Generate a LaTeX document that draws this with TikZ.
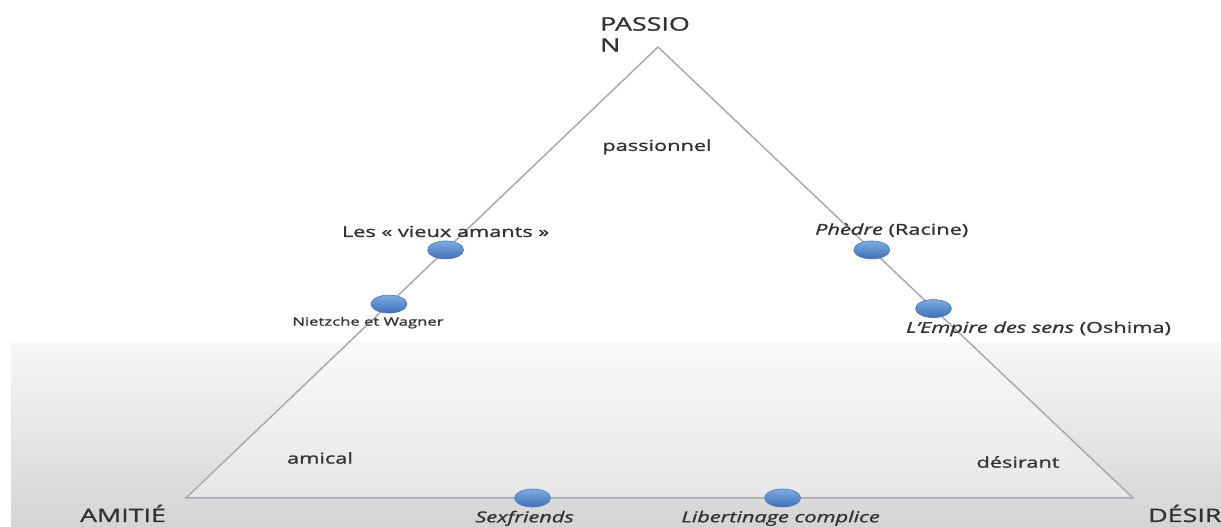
\documentclass[tikz,border=0pt]{standalone}
\usepackage{fontspec}
\setmainfont{Open Sans}[FakeStretch=1.45,FakeBold=1.2]
\usetikzlibrary{shapes.geometric,calc}

\definecolor{edgegray}{RGB}{165,170,180}
\definecolor{textgray}{RGB}{50,50,50}
\definecolor{dotlight}{RGB}{125,172,226}
\definecolor{dotdark}{RGB}{62,112,182}
\definecolor{dotline}{RGB}{75,120,185}
\definecolor{floortop}{RGB}{247,247,247}
\definecolor{floorgray}{RGB}{212,212,212}

\tikzset{
  edge/.style={draw=edgegray,line width=1.5pt,fill=white,fill opacity=0.35},
  dot/.style={ellipse,minimum width=36pt,minimum height=18pt,inner sep=0pt,
    top color=dotlight,bottom color=dotdark,draw=dotline,line width=0.6pt},
  lbl/.style={font=\fontsize{15}{18}\selectfont,text=textgray},
  corner/.style={font=\fontsize{18.5}{21}\selectfont,text=textgray,inner sep=0pt}
}

\begin{document}
\begin{tikzpicture}[x=1pt,y=1pt]
        \useasboundingbox (0,0) rectangle (1221,527);

        % Background
        \fill[top color=floortop,bottom color=floorgray] (11,0) rectangle (1221,184);

        % Triangle
        \coordinate (amitie) at (186,29);
        \coordinate (passion) at (658,480);
        \coordinate (desir) at (1133,29);
        \draw[edge] (amitie) -- (passion) -- (desir) -- cycle;

        % Corners
        \node[corner,anchor=north west,align=left] (passionlbl) at (600,510) {PASSIO\\N};
        \node[corner,anchor=base] (amitielbl) at (123,5) {AMITIÉ};
        \node[corner,anchor=base west] (desirlbl) at (1148,5) {DÉSIR};

        % Zones
        \node[lbl] (passionnel) at (657,380) {passionnel};
        \node[lbl] (amical) at (320,69) {amical};
        \node[lbl] (desirant) at (1018,65) {désirant};

        % Amitie -- passion
        \node[dot,label={[lbl]above:Les « vieux amants »}] (vieux) at ($(amitie)!0.55!(passion)$) {};
        \node[dot,label={[lbl,font=\fontsize{11.5}{14}\selectfont,xshift=-21pt]below:Nietzche et Wagner}] (nietzsche) at ($(amitie)!0.43!(passion)$) {};

        % Passion -- desir
        \node[dot,label={[lbl,xshift=20pt]above:\textit{Phèdre} (Racine)}] (phedre) at ($(passion)!0.45!(desir)$) {};
        \node[dot,label={[lbl,xshift=105pt]below:\textit{L’Empire des sens} (Oshima)}] (empire) at ($(passion)!0.58!(desir)$) {};

        % Amitie -- desir
        \node[dot,label={[lbl,xshift=-8pt]below:\textit{Sexfriends}}] (sexfriends) at ($(amitie)!0.366!(desir)$) {};
        \node[dot,label={[lbl,xshift=-2pt]below:\textit{Libertinage complice}}] (libertinage) at ($(amitie)!0.63!(desir)$) {};
\end{tikzpicture}
\end{document}
